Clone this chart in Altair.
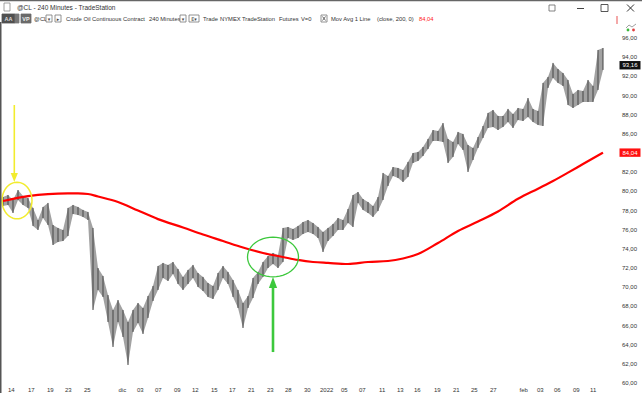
import math
import altair as alt
import pandas as pd

# ---------------- data ----------------
bar_high = [79.41, 79.62, 79.10, 80.14, 79.52, 79.31, 78.27, 77.01, 78.37, 78.79,
            76.49, 76.18, 75.97, 78.27, 78.58, 78.37, 78.06, 77.85, 76.18, 72.00,
            71.17, 69.18, 67.62, 68.66, 67.62, 66.37, 67.62, 68.35, 67.83, 69.08,
            70.13, 72.21, 72.53, 72.32, 72.63, 71.90, 71.07, 71.80, 72.32, 71.48,
            71.07, 70.44, 70.13, 71.48, 72.21, 71.59, 70.75, 69.71, 68.35, 69.08,
            70.96, 71.59, 72.63, 73.26, 73.57, 73.36, 76.18, 76.28, 76.07, 76.39,
            76.80, 77.01, 76.70, 76.28, 75.76, 76.18, 76.60, 77.22, 77.01, 78.16,
            79.62, 79.93, 79.20, 78.89, 78.47, 79.41, 81.92, 81.60, 82.54, 82.44,
            82.23, 83.07, 84.00, 84.11, 84.63, 85.47, 86.40, 86.30, 87.13, 85.47,
            85.15, 86.20, 85.99, 84.84, 84.53, 85.67, 86.82, 88.18, 88.49, 87.87,
            87.87, 88.60, 88.07, 88.70, 88.60, 89.74, 88.60, 88.39, 91.31, 91.94,
            93.40, 92.77, 92.35, 91.62, 90.16, 90.58, 90.47, 91.62, 91.00, 94.75,
            94.96]
bar_low = [78.47, 78.58, 77.74, 79.10, 78.58, 78.27, 76.39, 75.97, 77.22, 76.49,
           74.40, 74.72, 74.82, 75.34, 77.64, 77.53, 77.33, 77.01, 67.62, 69.71,
           68.98, 66.37, 63.76, 66.37, 64.80, 61.88, 65.33, 66.26, 65.12, 66.79,
           68.56, 69.71, 70.96, 70.65, 71.38, 70.33, 69.71, 70.33, 70.96, 70.02,
           69.60, 68.98, 68.77, 69.71, 70.96, 70.33, 68.98, 67.83, 65.74, 67.83,
           68.87, 70.33, 71.07, 72.00, 72.42, 72.00, 72.63, 75.13, 74.93, 75.13,
           75.55, 75.76, 75.55, 75.13, 73.67, 74.82, 75.34, 75.97, 75.97, 76.70,
           76.28, 78.79, 78.06, 77.74, 77.33, 77.95, 79.10, 80.56, 81.60, 81.40,
           80.98, 81.50, 82.96, 83.17, 83.69, 84.42, 85.26, 85.26, 85.15, 82.96,
           83.59, 84.94, 84.32, 82.02, 83.27, 84.53, 85.57, 86.61, 86.72, 86.40,
           86.72, 87.24, 86.61, 87.45, 87.34, 87.76, 87.24, 86.93, 86.82, 90.79,
           91.83, 91.31, 91.00, 89.01, 88.70, 89.01, 89.33, 89.33, 89.33, 90.58,
           92.67]
last_close = 93.16

ma_idx = [0, 5, 9, 13, 15, 17, 19, 23, 27, 31, 36, 40, 44, 48, 52, 56, 59, 62,
          65, 69, 73, 77, 80, 83, 87, 91, 95, 99, 103, 107, 110, 113, 116, 120]
ma_val = [78.99, 79.51, 79.72, 79.78, 79.78, 79.72, 79.46, 78.89, 78.00, 77.10,
          76.23, 75.50, 74.82, 74.14, 73.57, 73.15, 72.84, 72.63, 72.53, 72.42,
          72.63, 72.73, 72.99, 73.46, 74.61, 75.86, 76.85, 77.90, 79.22, 80.28,
          81.08, 81.95, 82.85, 84.04]

tick_pos = [0.8, 4.8, 8.6, 12.2, 16, 22.9, 26.6, 30.2, 34, 37.6, 41.4, 45, 48.8,
            52.6, 56.2, 60, 63.2, 67.4, 71, 75, 78.6, 82, 86, 89.8, 93.4, 97.2,
            103.1, 106.6, 110, 113.8, 117.2]
tick_lab = ["14", "17", "19", "23", "25", "dic", "03", "07", "09", "12", "15",
            "17", "21", "23", "28", "30", "2022", "05", "07", "11", "13", "16",
            "19", "21", "25", "27", "feb", "03", "06", "09", "11"]
y_ticks = list(range(60, 98))
y_labels = list(range(60, 98, 2))

# ---------------- layout ----------------
W, H = 615, 360
PADL, PADT = 2, 24
RED_AX = "#f08c8c"
FONT = "Liberation Sans"
xs = alt.Scale(domain=[-0.2, 122.8], nice=False, zero=False)
ys = alt.Scale(domain=[59.896, 97.463], nice=False, zero=False)

bars_df = pd.DataFrame({"i": list(range(len(bar_high))), "high": bar_high, "low": bar_low})
ma_df = pd.DataFrame({"i": ma_idx, "v": ma_val})
ticks_df = pd.DataFrame({"i": tick_pos, "lab": tick_lab})
ylab_df = pd.DataFrame({"p": y_labels})

x_enc = alt.X("i:Q", scale=xs, axis=alt.Axis(
    values=tick_pos, labels=False, title=None, grid=False, orient="bottom",
    domainColor=RED_AX, tickColor=RED_AX, tickSize=2, domainWidth=1.5))
y_enc = alt.Y("low:Q", scale=ys, axis=alt.Axis(
    orient="right", values=y_ticks, title=None, grid=False, labels=False,
    domainColor=RED_AX, tickColor=RED_AX, tickSize=3, domainWidth=1.5))


def X(field="i"):
    return alt.X(f"{field}:Q", scale=xs, axis=None)


def Y(field):
    return alt.Y(f"{field}:Q", scale=ys, axis=None)


band = alt.Chart(bars_df).mark_area(color="#a2a2a2", opacity=1, interpolate="linear").encode(
    x=x_enc, y=y_enc, y2="high:Q")
bars_thin = alt.Chart(bars_df).mark_rule(color="#454545", strokeWidth=1).encode(
    x=X(), y=Y("low"), y2="high:Q")

ma_line = alt.Chart(ma_df).mark_line(color="#ff0000", strokeWidth=2.2, interpolate="monotone").encode(
    x=X(), y=Y("v"))

xlabels = alt.Chart(ticks_df).mark_text(
    align="left", baseline="middle", dx=1, font=FONT, fontSize=6, color="#333").encode(
    x=X(), y=alt.value(H + 5.5), text="lab:N")
ylabels = alt.Chart(ylab_df).transform_calculate(
    lab="replace(format(datum.p, '.2f'), '.', ',')").mark_text(
    align="left", baseline="middle", font=FONT, fontSize=6, color="#333").encode(
    x=alt.value(W + 5), y=Y("p"), text="lab:N")

one = pd.DataFrame({"a": [0]})


def ellipse_path(ry, n=48):
    pts = [(math.cos(2 * math.pi * k / n), ry * math.sin(2 * math.pi * k / n)) for k in range(n)]
    return "M" + "L".join(f"{x:.3f},{y:.3f}" for x, y in pts) + "Z"


def at(i, p):
    return pd.DataFrame({"i": [i], "p": [p]})


YEL = "#f2ec2e"
GRN = "#3cc83c"
yel_ell = alt.Chart(at(2.8, 79.04)).mark_point(
    shape=ellipse_path(1.22), size=900, filled=False, stroke=YEL, strokeWidth=1.5, opacity=1).encode(
    x=X(), y=Y("p"))
yel_shaft = alt.Chart(pd.DataFrame({"i": [2.26], "p": [89.01], "p2": [81.75]})).mark_rule(
    color=YEL, strokeWidth=1.6).encode(x=X(), y=Y("p"), y2="p2:Q")
yel_head = alt.Chart(at(2.26, 81.44)).mark_point(
    shape="M-0.8,-1L0.8,-1L0,1Z", size=81, filled=True, color=YEL, opacity=1).encode(
    x=X(), y=Y("p"))
grn_ell = alt.Chart(at(54.0, 73.15)).mark_point(
    shape=ellipse_path(0.78), size=2601, filled=False, stroke=GRN, strokeWidth=1.3, opacity=1).encode(
    x=X(), y=Y("p"))
grn_shaft = alt.Chart(pd.DataFrame({"i": [54.0], "p": [63.23], "p2": [70.0]})).mark_rule(
    color=GRN, strokeWidth=2.6).encode(x=X(), y=Y("p"), y2="p2:Q")
grn_head = alt.Chart(at(54.0, 70.49)).mark_point(
    shape="M-0.75,1L0.75,1L0,-1Z", size=121, filled=True, color=GRN, opacity=1).encode(
    x=X(), y=Y("p"))

TAG = "M-1,-0.4L1,-0.4L1,0.4L-1,0.4Z"
tags_df = pd.DataFrame({"p": [last_close, ma_val[-1]], "kind": ["close", "ma"]})
tag_color = alt.Color("kind:N", scale=alt.Scale(domain=["close", "ma"], range=["#111111", "#ff1010"]),
                      legend=None)
tags = alt.Chart(tags_df).mark_point(shape=TAG, size=441, filled=True, opacity=1).encode(
    x=alt.value(W + 13), y=Y("p"), color=tag_color)
tag_txt = alt.Chart(tags_df).transform_calculate(
    lab="replace(format(datum.p, '.2f'), '.', ',')").mark_text(
    font=FONT, fontSize=6, color="white", baseline="middle").encode(
    x=alt.value(W + 13), y=Y("p"), text="lab:N")


# ---------------- window chrome (window pixel coordinates) ----------------
def txt(s, x, y, color="#333", size=5.8, weight="normal", align="left", font=FONT):
    return alt.Chart(one).mark_text(text=s, align=align, baseline="middle", fontSize=size,
                                    font=font, color=color, fontWeight=weight).encode(
        x=alt.value(x - PADL), y=alt.value(y - PADT))


def box(x0, y0, x1, y1, fill="white", stroke="#777", sw=0.8):
    return alt.Chart(one).mark_rect(fill=fill, stroke=stroke, strokeWidth=sw).encode(
        x=alt.value(x0 - PADL), x2=alt.value(x1 - PADL), y=alt.value(y0 - PADT), y2=alt.value(y1 - PADT))


def line(x0, y0, x1, y1, color="#555", sw=1.0):
    return alt.Chart(one).mark_rule(color=color, strokeWidth=sw).encode(
        x=alt.value(x0 - PADL), x2=alt.value(x1 - PADL), y=alt.value(y0 - PADT), y2=alt.value(y1 - PADT))


def dot(x, y, color, size=8):
    return alt.Chart(one).mark_point(shape="circle", filled=True, color=color, size=size, opacity=1).encode(
        x=alt.value(x - PADL), y=alt.value(y - PADT))


chrome = [
    line(0, 0.5, 642, 0.5, "#666", 1.5),
    line(0.75, 22, 0.75, 393, "#555", 1.5),
    box(4, 3, 10, 11, "white", "#888", 0.8),
    txt("@CL - 240 Minutes - TradeStation", 17, 7.5, "#333", 6.5),
    box(549, 5, 555, 11, "white", "#666", 0.8),
    line(577, 8.5, 584, 8.5, "#444", 1),
    box(601, 4.5, 608, 11.5, "white", "#444", 0.9),
    line(627, 4.5, 634, 11.5, "#333", 1),
    line(627, 11.5, 634, 4.5, "#333", 1),
    box(2, 14, 15, 23, "#505050", "#505050"),
    txt("AA", 8.5, 18.7, "#ddd", 5.5, "bold", "center"),
    box(15, 14, 19, 23, "#777", "#777"),
    box(21, 14, 31, 23, "#6a6a6a", "#6a6a6a"),
    txt("VP", 26, 18.7, "#eee", 5.5, "bold", "center"),
    txt("@CL", 34, 18.7),
    box(46, 15, 52, 22),
    txt("▾", 49, 18.7, "#444", 5, "normal", "center", "DejaVu Sans"),
    box(55, 15, 61, 22),
    txt("▸", 58, 18.7, "#444", 5, "normal", "center", "DejaVu Sans"),
    txt("Crude Oil Continuous Contract", 66, 18.7),
    txt("240 Minutes", 149, 18.7),
    box(180, 15, 186, 22),
    txt("▾", 183, 18.7, "#444", 5, "normal", "center", "DejaVu Sans"),
    box(189, 15, 199, 22),
    txt("E▾", 194, 18.7, "#444", 5, "normal", "center", "DejaVu Sans"),
    txt("Trade", 203, 18.7),
    txt("NYMEX", 220, 18.7),
    txt("TradeStation", 242, 18.7),
    txt("Futures", 279, 18.7),
    txt("V=0", 301, 18.7),
    box(321, 15, 327, 22),
    line(322.5, 16.5, 325.5, 20.5, "#444", 0.8),
    line(322.5, 20.5, 325.5, 16.5, "#444", 0.8),
    txt("Mov Avg 1 Line", 331, 18.7),
    txt("(close,  200,  0)", 377, 18.7),
    txt("84,04", 419, 18.7, "#ff2020"),
    line(617, 16, 617, 24, RED_AX, 1.5),
    line(626, 28, 629, 25, "#888", 0.8),
    line(629, 25, 632, 27, "#888", 0.8),
    line(632, 27, 636, 24, "#888", 0.8),
    dot(628, 30, "#3cb83c"),
    dot(633.5, 30, "#e04040"),
]

layers = [band, bars_thin, ma_line, xlabels, ylabels,
          yel_ell, yel_shaft, yel_head, grn_ell, grn_shaft, grn_head,
          tags, tag_txt] + chrome

chart = alt.layer(*layers).properties(
    width=W, height=H,
    padding={"left": PADL, "top": PADT, "right": 642 - PADL - W, "bottom": 393 - PADT - H},
    autosize=alt.AutoSizeParams(type="none"),
    background="white",
).configure_view(strokeOpacity=0)

chart.save("out.html", embed_options={"renderer": "svg", "actions": False})
